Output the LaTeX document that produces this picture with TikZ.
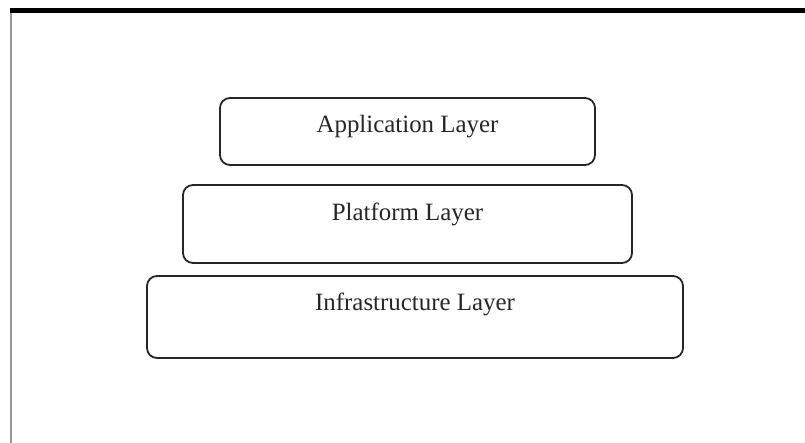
\documentclass[tikz,border=0pt]{standalone}
\usepackage{fontspec}
\setmainfont{Liberation Serif}
\begin{document}
\begin{tikzpicture}[x=1pt,y=-1pt,
  layer/.style={draw=black!85, line width=1.8pt, rounded corners=10pt, inner sep=0pt},
  lbl/.style={anchor=base, inner sep=0pt, font=\fontsize{24.9}{30}\selectfont, text=black!85}]
\useasboundingbox (0,0) rectangle (805,443);
\draw[black!40, line width=2pt] (11,10) -- (11,443);
\draw[black, line width=5pt] (10,10.5) -- (805,10.5);
\node[layer, minimum width=375pt, minimum height=67pt] (app) at (407.5,131.5) {};
\node[layer, minimum width=449pt, minimum height=78pt] (plat) at (407.5,224) {};
\node[layer, minimum width=536pt, minimum height=82pt] (infra) at (415,317) {};
\node[lbl] (appt) at ([yshift=-35pt]app.north) {Application Layer};
\node[lbl] (platt) at ([yshift=-36pt]plat.north) {Platform Layer};
\node[lbl] (infrat) at ([yshift=-35pt]infra.north) {Infrastructure Layer};
\end{tikzpicture}
\end{document}
